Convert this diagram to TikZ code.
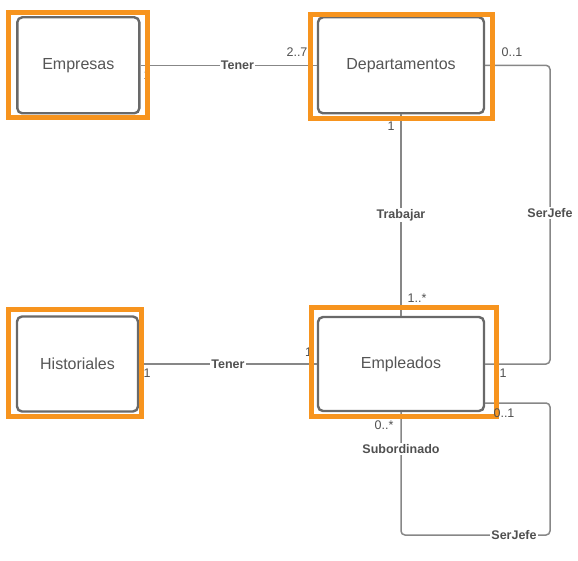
\documentclass[tikz,border=0pt]{standalone}
\usepackage{fontspec}
\setmainfont{Liberation Sans}
\definecolor{orng}{RGB}{247,148,30}
\definecolor{boxgray}{RGB}{105,105,105}
\definecolor{linegray}{RGB}{135,135,135}
\definecolor{txtgray}{RGB}{85,85,85}
\definecolor{lblgray}{RGB}{80,80,80}
\begin{document}
\begin{tikzpicture}[x=1pt,y=-1pt,
  entity/.style={draw=boxgray, line width=2.4pt, rounded corners=5pt, fill=white, text=txtgray, font=\fontsize{16}{19}\selectfont, inner sep=0pt},
  hilite/.style={draw=orng, line width=5pt, inner sep=0pt},
  rel/.style={draw=linegray, line width=1.5pt},
  rlabel/.style={fill=white, text=lblgray, font=\bfseries\fontsize{12.5}{15}\selectfont, inner sep=1pt},
  card/.style={text=lblgray, font=\fontsize{12.5}{14}\selectfont, inner sep=0pt}]
\useasboundingbox (0,0) rectangle (578,561);
% entities
\node[entity, minimum width=122pt, minimum height=96pt] (emp) at (78.3,65.3) {Empresas};
\node[entity, minimum width=166pt, minimum height=96pt] (dep) at (401,65.3) {Departamentos};
\node[entity, minimum width=121pt, minimum height=95pt] (his) at (77.5,364) {Historiales};
\node[entity, minimum width=166pt, minimum height=94pt] (eml) at (401,364) {Empleados};
% helper coordinates
\coordinate (sj) at (550,200);
\coordinate (lp) at (550,535);
% connectors
\draw[rel] (emp.east) -- node[rlabel, pos=0.55] {Tener} (dep.west);
\draw[rel] (dep.south) -- node[rlabel] {Trabajar} (eml.north);
\draw[rel, rounded corners=4pt] (dep.east) -| (sj) |- (eml.east);
\node[rlabel] (sjl) at (550,213) {SerJefe};
\draw[rel] (his.east) -- node[rlabel] {Tener} (eml.west);
\draw[rel, rounded corners=4pt] ([yshift=-39pt]eml.east) -| (lp) -| (eml.south);
\node[rlabel] (sub) at (401,449) {Subordinado};
\node[rlabel] (sj2) at (514,535) {SerJefe};
% cardinalities
\node[card] (c1) at (147,75) {1};
\node[card] (c2) at (297,52) {2..7};
\node[card] (c3) at (512,52) {0..1};
\node[card] (c4) at (391,126) {1};
\node[card] (c5) at (417,298) {1..*};
\node[card] (c6) at (147,373) {1};
\node[card] (c7) at (308.5,352) {1};
\node[card] (c8) at (503,373) {1};
% orange highlight frames
\node[hilite, minimum width=139pt, minimum height=105pt] (hemp) at (78,65.5) {};
\node[hilite, minimum width=182pt, minimum height=103.4pt] (hdep) at (401.5,66.5) {};
\node[hilite, minimum width=133pt, minimum height=107pt] (hhis) at (75,363) {};
\node[hilite, minimum width=185pt, minimum height=109pt] (heml) at (404,362) {};
\node[card] (c9) at (504,413) {0..1};
\node[card] (c10) at (384,425) {0..*};
\end{tikzpicture}
\end{document}
